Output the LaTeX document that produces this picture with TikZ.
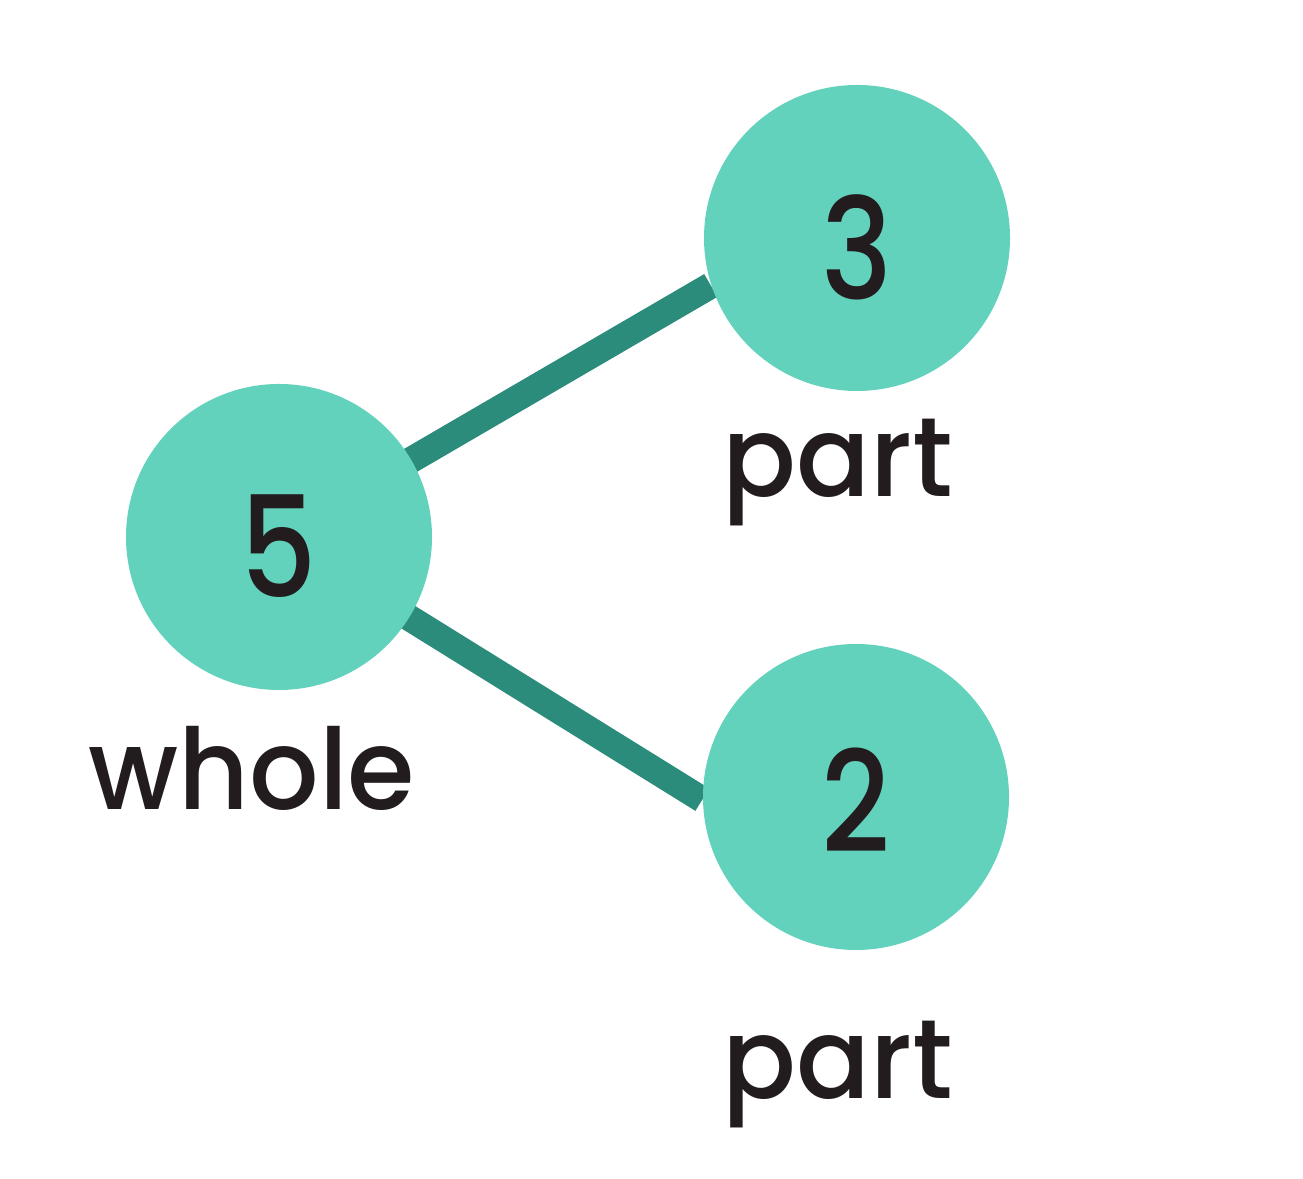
\documentclass[tikz,border=0pt]{standalone}
\usepackage{fontspec}
\setmainfont{Poppins Medium}
\usetikzlibrary{backgrounds}

\definecolor{ballfill}{RGB}{98,210,188}
\definecolor{barcol}{RGB}{44,140,124}
\definecolor{inkcol}{RGB}{35,28,30}

\tikzset{
  ball/.style={circle, fill=ballfill, minimum size=3.06cm, inner sep=0pt,
    text=inkcol, font=\fontsize{40}{40}\selectfont},
  lbl/.style={anchor=base, text=inkcol, inner sep=0pt, font=\fontsize{32}{32}\selectfont},
  bar/.style={barcol, line width=7.5pt}
}
% digit sitting with its foot a given distance below the centre
\newcommand{\digit}[2]{\raisebox{-#1}[0pt][0pt]{\scalebox{0.85}[1]{#2}}}

\begin{document}
\begin{tikzpicture}
        \useasboundingbox (0,0) rectangle (13.03,11.79);

        % Nodes
        \node[ball] (B5) at (2.79, 6.42) {\digit{0.61cm}{5}};
        \node[ball] (B3) at (8.57, 9.41) {\digit{0.62cm}{3}};
        \node[ball] (B2) at (8.56, 3.82) {\digit{0.56cm}{2}};

        % Labels
        \node[lbl] (whole) at (2.52, 3.69) {\scalebox{0.97}[1]{whole}};
        \node[lbl] (part1) at (8.38, 6.82) {\scalebox{0.97}[1]{part}};
        \node[lbl] (part2) at (8.38, 0.80) {\scalebox{0.97}[1]{part}};

        % Edges
        \begin{pgfonlayer}{background}
        \draw[bar] (B5.center) -- (B3.198);
        \draw[bar] (B5.center) -- (B2.181);
        \end{pgfonlayer}
    \end{tikzpicture}
\end{document}
